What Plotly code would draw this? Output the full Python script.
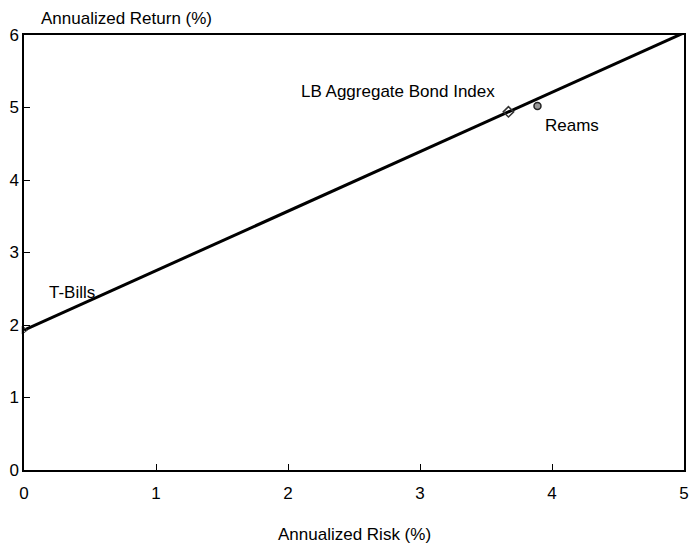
import plotly.graph_objects as go

# capital market line
line_risk = [0, 5]
line_return = [1.93, 6.03]

# portfolios
names = ["T-Bills", "LB Aggregate Bond Index", "Reams"]
risk = [0.0, 3.67, 3.89]
ret = [1.93, 4.94, 5.02]

FONT = "Liberation Sans, Arial, sans-serif"

fig = go.Figure()

fig.add_trace(go.Scatter(x=line_risk, y=line_return, mode="lines",
                         line=dict(color="black", width=3), showlegend=False,
                         cliponaxis=False))

fig.add_trace(go.Scatter(x=[risk[1]], y=[ret[1]], mode="markers",
                         marker=dict(symbol="diamond-open", size=8, color="#333",
                                     line=dict(width=1.5)),
                         showlegend=False))
fig.add_trace(go.Scatter(x=[risk[2]], y=[ret[2]], mode="markers",
                         marker=dict(symbol="circle", size=7, color="#999",
                                     line=dict(color="#222", width=1.5)),
                         showlegend=False))
fig.add_trace(go.Scatter(x=[risk[0]], y=[ret[0]], mode="markers",
                         marker=dict(symbol="triangle-right-open", size=7, color="#333",
                                     line=dict(width=1)),
                         showlegend=False, cliponaxis=False))

fig.add_annotation(x=risk[0], y=ret[0], text=names[0], showarrow=False,
                   xanchor="left", yanchor="middle", xshift=23, yshift=38)
fig.add_annotation(x=risk[1], y=ret[1], text=names[1], showarrow=False,
                   xanchor="right", yanchor="middle", xshift=-11, yshift=20)
fig.add_annotation(x=risk[2], y=ret[2], text=names[2], showarrow=False,
                   xanchor="left", yanchor="middle", xshift=6, yshift=-19)

fig.add_annotation(x=0, y=1, xref="paper", yref="paper", text="Annualized Return (%)",
                   showarrow=False, xanchor="left", yanchor="middle", xshift=15, yshift=17)
fig.add_annotation(x=0.5, y=0, xref="paper", yref="paper", text="Annualized Risk (%)",
                   showarrow=False, xanchor="center", yanchor="middle", yshift=-64)

fig.update_layout(
    width=690, height=544,
    margin=dict(l=24, r=6, t=35, b=74),
    paper_bgcolor="white", plot_bgcolor="white",
    font=dict(family=FONT, size=17, color="black"),
    xaxis=dict(range=[0, 5], dtick=1, showgrid=False, zeroline=False,
               showline=True, linecolor="black", linewidth=1.5, mirror=True,
               ticks="inside", ticklen=6, tickcolor="black", automargin=False,
               ticklabelstandoff=7),
    yaxis=dict(range=[0, 6], dtick=1, showgrid=False, zeroline=False,
               showline=True, linecolor="black", linewidth=1.5, mirror=True,
               ticks="inside", ticklen=6, tickcolor="black", automargin=False),
)

# drop the default 8px page margin so the figure fills the window
fig.write_html("out.html", config={"displayModeBar": False},
               post_script="document.body.style.margin='0';document.body.style.overflow='hidden';")
